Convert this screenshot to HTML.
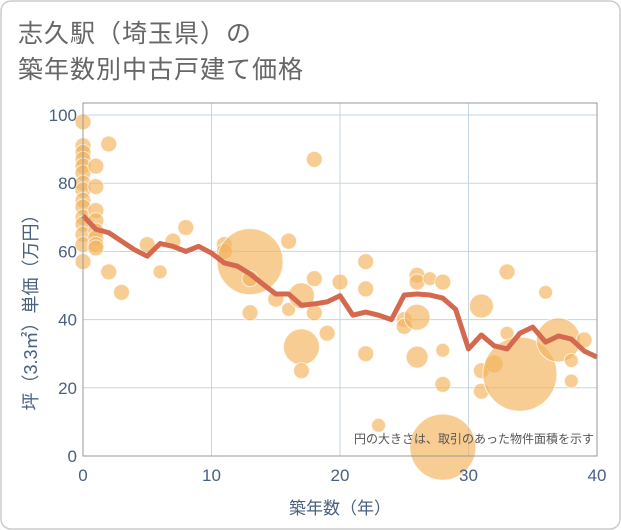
<!DOCTYPE html>
<html><head><meta charset="utf-8"><style>
body{margin:0;background:#fff;}
svg{display:block;font-family:"Liberation Sans","Noto Sans CJK JP",sans-serif;}
</style></head><body>
<svg id="c" width="621" height="530" xmlns="http://www.w3.org/2000/svg">
<rect x="1" y="1" width="619" height="528" rx="10" fill="#fff" stroke="#ccc" stroke-width="1.5"/>
<text x="18" y="42" font-size="25" letter-spacing="1" fill="#666">志久駅（埼玉県）の</text>
<text x="18" y="78" font-size="25" letter-spacing="1" fill="#666">築年数別中古戸建て価格</text>
<g id="grid"></g>
<g id="bubbles"></g>
<g id="line"></g>
<rect x="83" y="103" width="514" height="353" fill="none" stroke="#999" stroke-width="1"/>
<g id="axes"></g>
<text x="594" y="443" font-size="12" fill="#555" text-anchor="end">円の大きさは、取引のあった物件面積を示す</text>
<text x="340" y="514" font-size="17" fill="#4a6080" text-anchor="middle">築年数（年）</text>
<text transform="translate(37,308) rotate(-90)" font-size="18" fill="#4a6080" text-anchor="middle">坪（3.3㎡）単価（万円）</text>
</svg>
<script>
const xTicks=[0,10,20,30,40];
const yTicks=[0,20,40,60,80,100];
const lineYears=[0,1,2,3,4,5,6,7,8,9,10,11,12,13,14,15,16,17,18,19,20,21,22,23,24,25,26,27,28,29,30,31,32,33,34,35,36,37,38,39,40];
const lineValues=[70.5,66.5,65.5,63,60.5,58.6,62.3,61.5,60,61.5,59.5,56.6,55.7,53.4,50.4,47.5,47.5,44.2,44.6,45.2,47,41.3,42.2,41.3,40,47.2,47.5,47.2,46.3,43,31.4,35.5,32.3,31.4,36,37.8,33.4,35.2,34.3,30.8,29];
const bubbleX=[0,0,0,0,0,0,0,0,0,0,0,0,0,0,0,1,1,1,1,1,1,1,1,2,2,3,5,6,7,8,11,11,13,13,13,15,16,16,17,17,17,18,18,18,19,20,22,22,22,23,25,25,26,26,26,26,27,28,28,28,28,31,31,31,32,33,33,34,36,37,38,38,39];
const bubbleY=[98,91,89,87,85,83,80,78,75,73,70,68,65,62,57,85,79,72,69,66,64,62,61,91.5,54,48,62,54,63,67,62,60,57,52,42,46,63,43,47,32,25,87,52,42,36,51,57,49,30,9,40,38,53,51,40.7,29,52,51,31,21,2.6,44,25,19,27,54,36,24,48,34,28,22,34];
const bubbleR=[8,8,8,8,8,8,8,8,8,8,8,8,8,8,8,8,8,8,8,8,8,8,8,8,8,8,8,7,8,8,8,8,33,8,8,8,8,7,13,18,8,8,8,8,8,8,8,8,8,7,8,8,8,8,13,11,7,8,7,8,33,12,8,8,9,8,7,37,7,22,7,7,8];
const X0=83,X1=597,Y0=456,Y1=115;
const sx=v=>X0+(v-0)/40*(X1-X0);
const sy=v=>Y0-(v-0)/100*(Y0-Y1);
const NS="http://www.w3.org/2000/svg";
const grid=document.getElementById('grid'),axes=document.getElementById('axes');
xTicks.forEach(t=>{
 const l=document.createElementNS(NS,'line');
 l.setAttribute('x1',sx(t));l.setAttribute('x2',sx(t));l.setAttribute('y1',103);l.setAttribute('y2',Y0);
 l.setAttribute('stroke','#c5d5e3');l.setAttribute('stroke-width','1');
 
 
 grid.appendChild(l);
 const tx=document.createElementNS(NS,'text');
 tx.setAttribute('x',sx(t));tx.setAttribute('y',481);tx.setAttribute('font-size','17');tx.setAttribute('fill','#4a6080');tx.setAttribute('text-anchor','middle');
 tx.textContent=t;
 
 
 axes.appendChild(tx);
});
yTicks.forEach(t=>{
 const l=document.createElementNS(NS,'line');
 l.setAttribute('x1',X0);l.setAttribute('x2',X1);l.setAttribute('y1',sy(t));l.setAttribute('y2',sy(t));
 l.setAttribute('stroke','#c5d5e3');l.setAttribute('stroke-width','1');
 
 
 grid.appendChild(l);
 const tx=document.createElementNS(NS,'text');
 tx.setAttribute('x',77);tx.setAttribute('y',sy(t)+6);tx.setAttribute('font-size','17');tx.setAttribute('fill','#4a6080');tx.setAttribute('text-anchor','end');
 tx.textContent=t;
 
 
 axes.appendChild(tx);
});
const bg=document.getElementById('bubbles');
bubbleX.forEach((x,i)=>{
 const c=document.createElementNS(NS,'circle');
 c.setAttribute('cx',sx(x));c.setAttribute('cy',sy(bubbleY[i]));c.setAttribute('r',bubbleR[i]);
 c.setAttribute('fill','rgba(242,178,90,0.65)');c.setAttribute('stroke','rgba(255,255,255,0.7)');c.setAttribute('stroke-width','1');
 
 
 bg.appendChild(c);
});
const p=document.createElementNS(NS,'polyline');
p.setAttribute('points',lineYears.map((x,i)=>sx(x)+','+sy(lineValues[i])).join(' '));
p.setAttribute('fill','none');p.setAttribute('stroke','#d4694f');p.setAttribute('stroke-width','5');p.setAttribute('stroke-linejoin','round');


document.getElementById('line').appendChild(p);
</script>
</body></html>
